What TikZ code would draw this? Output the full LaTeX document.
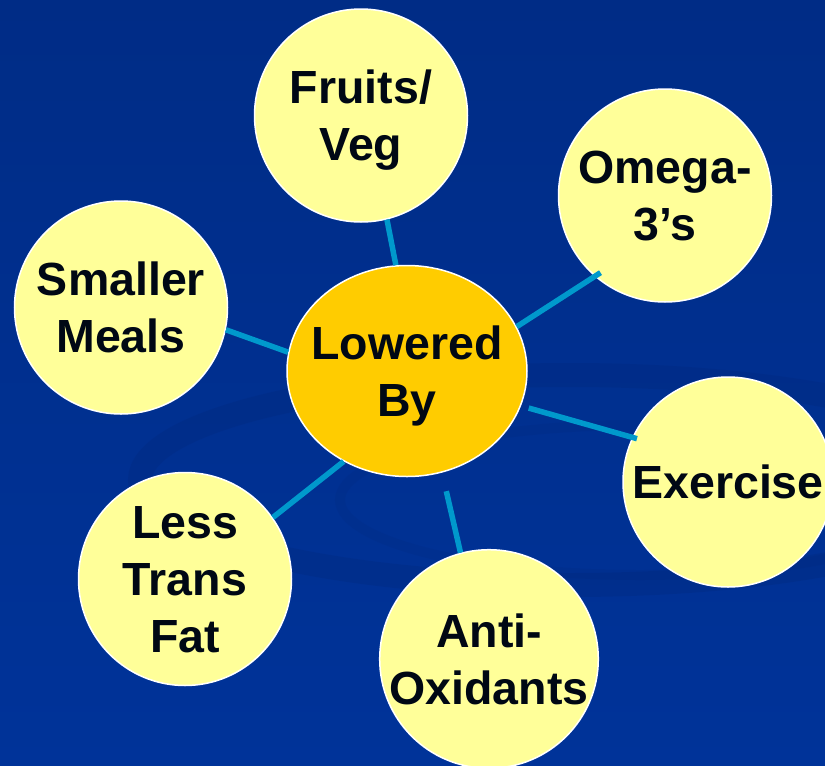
\documentclass[tikz,border=0pt]{standalone}
\usepackage{fontspec}
\setmainfont{Liberation Sans}
\usetikzlibrary{shapes.geometric}
\definecolor{slideBlue}{HTML}{003399}
\definecolor{slideTop}{HTML}{002C86}
\definecolor{swirlBlue}{HTML}{00287C}
\definecolor{paleYellow}{HTML}{FFFF99}
\definecolor{hubGold}{HTML}{FFCC00}
\definecolor{spokeCyan}{HTML}{0099CC}
\definecolor{inkBlack}{HTML}{000814}
\tikzset{
  bubble/.style={circle, draw=white, line width=1.5pt, fill=paleYellow, minimum size=213pt, inner sep=0pt, align=center, text=inkBlack, font=\fontsize{46.5}{57}\selectfont\bfseries, text depth=0pt},
  hub/.style={bubble, ellipse, fill=hubGold, inner xsep=-11pt, minimum width=240pt, minimum height=211pt},
  spoke/.style={spokeCyan, line width=5.5pt}
}

\begin{document}
\begin{tikzpicture}[x=1pt, y=-1pt]
  \useasboundingbox (0,0) rectangle (825,766);
  \clip (0,0) rectangle (825,766);
  % slide background
  \shade[top color=slideTop, bottom color=slideBlue] (0,0) rectangle (825,766);
  \draw[swirlBlue, line width=24pt, opacity=0.3] (570,480) ellipse [x radius=430, y radius=105];
  \draw[swirlBlue, line width=10pt, opacity=0.2] (640,500) ellipse [x radius=300, y radius=75];
  % bubbles
  \node[hub] (lowered) at (407,371) {Lowered\\By};
  \node[bubble] (fruits) at (361,115.5) {Fruits/\\Veg};
  \node[bubble] (omega) at (665,195.5) {Omega-\\3’s};
  \node[bubble] (meals) at (121,307.5) {Smaller\\Meals};
  \node[bubble, minimum size=210pt] (exercise) at (728,482) {Exercise};
  \node[bubble] (transfat) at (185,579) {Less \\Trans\\Fat};
  \node[bubble, minimum size=211pt] (antiox) at (489,659) {Anti-\\Oxidants};
  % spokes
  \draw[spoke] (lowered.96) -- (fruits.-76);
  \draw[spoke, shorten >=-7pt] (lowered.22) -- (omega.229.5);
  \draw[spoke] (lowered.171) -- (meals.-12);
  \draw[spoke, shorten <=8pt, shorten >=-5pt] (lowered.-17) -- (exercise.155.5);
  \draw[spoke] (lowered.-125) -- (transfat.35.6);
  \draw[spoke, shorten <=19pt] (lowered.-71) -- (antiox.105);
\end{tikzpicture}
\end{document}
